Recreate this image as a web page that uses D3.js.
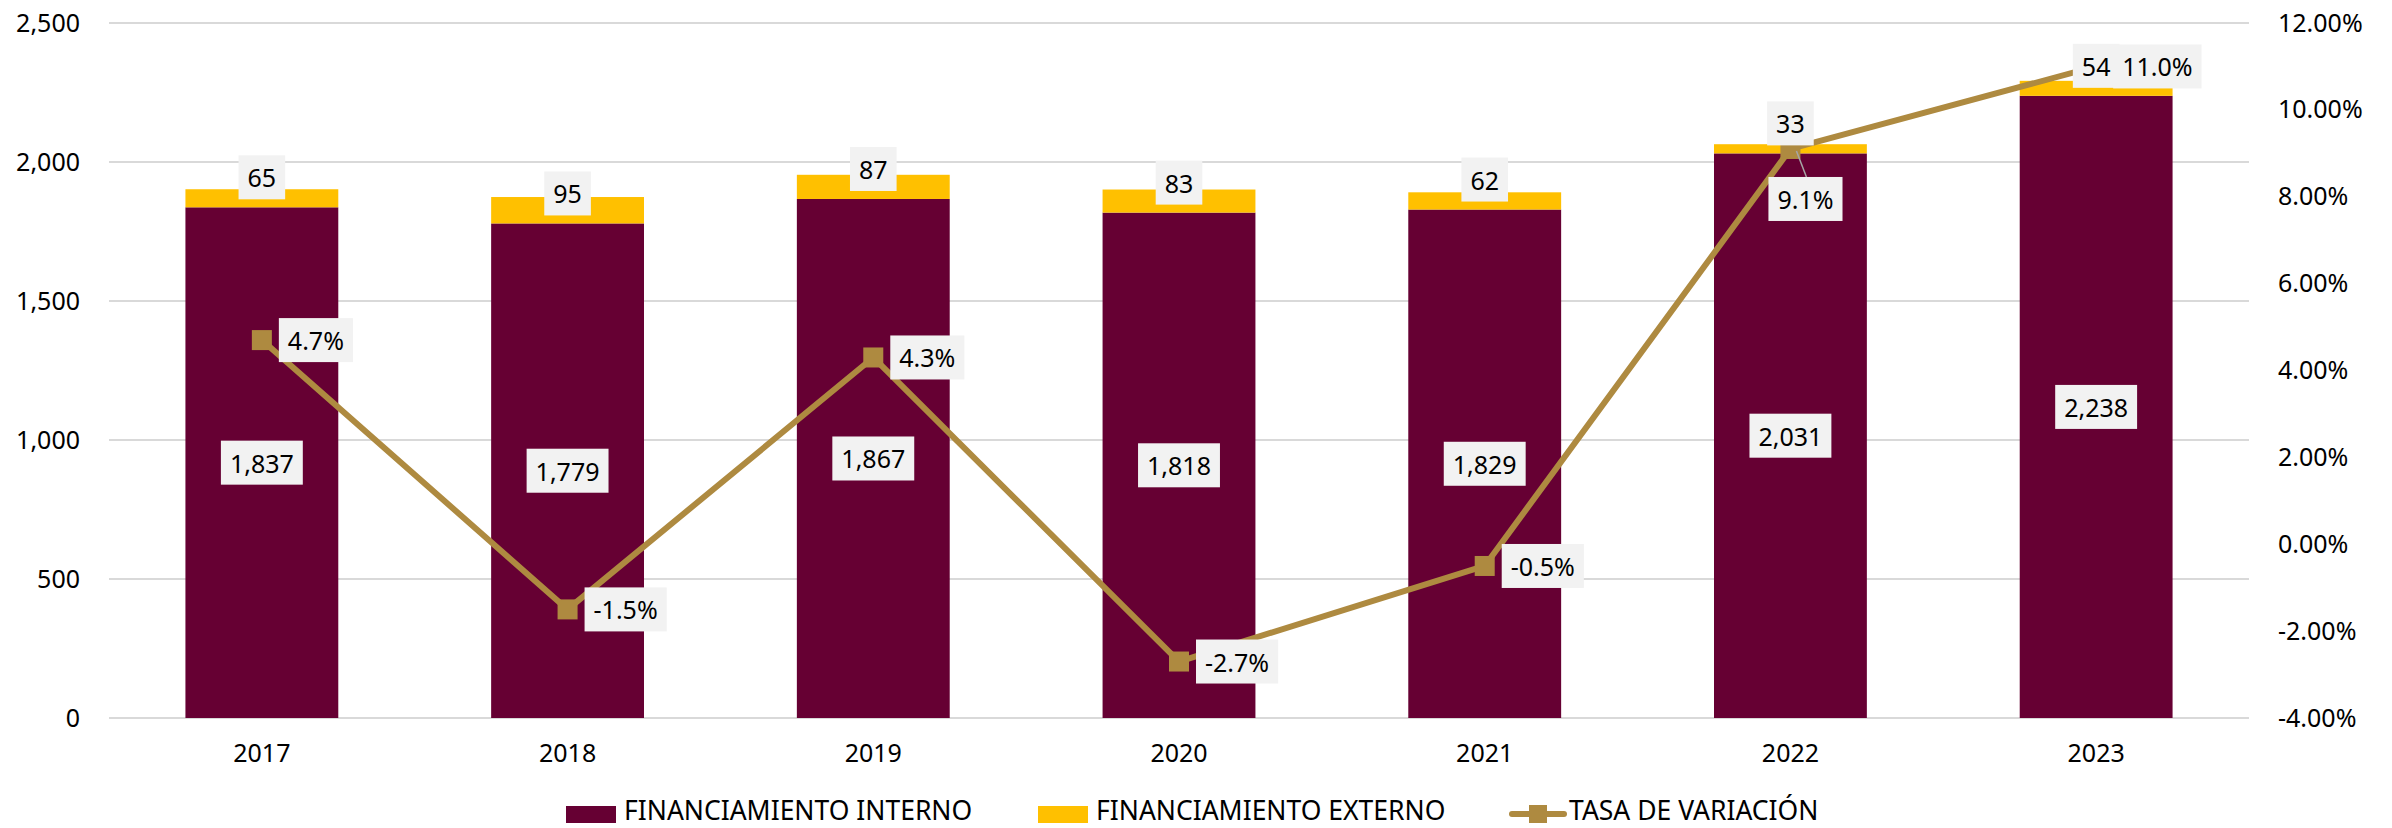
<!DOCTYPE html>
<html>
<head>
<meta charset="utf-8">
<script src="https://cdn.jsdelivr.net/npm/d3@7"></script>
<style>
  html, body { margin: 0; padding: 0; background: #ffffff; }
  svg { display: block; font-family: "Noto Sans", "Open Sans", sans-serif; }
</style>
</head>
<body>
<svg id="chart" width="2392" height="828"></svg>
<script>
const years = ["2017", "2018", "2019", "2020", "2021", "2022", "2023"];
const interno = [1837, 1779, 1867, 1818, 1829, 2031, 2238];
const externo = [65, 95, 87, 83, 62, 33, 54];
const tasa = [4.7, -1.5, 4.3, -2.7, -0.5, 9.1, 11.0];
const leftTicks = [0, 500, 1000, 1500, 2000, 2500];
const rightTicks = [-4, -2, 0, 2, 4, 6, 8, 10, 12];
const seriesNames = ["FINANCIAMIENTO INTERNO", "FINANCIAMIENTO EXTERNO", "TASA DE VARIACIÓN"];

const C_INT = "#660033", C_EXT = "#FFC000", C_LINE = "#AE8A40", C_GRID = "#D9D9D9", C_LBL = "#F2F2F2";
const svg = d3.select("#chart");
const L = 109, R = 2249, T = 23, B = 718;
const FS = 25;

const x = d3.scaleBand().domain(years).range([L, R]).paddingInner(0.5).paddingOuter(0.25);
const yL = d3.scaleLinear().domain([0, 2500]).range([B, T]);
const yR = d3.scaleLinear().domain([-4, 12]).range([B, T]);
const fmtN = d3.format(",");

// gridlines
svg.append("g").selectAll("line").data(leftTicks).join("line")
  .attr("x1", L).attr("x2", R)
  .attr("y1", d => yL(d)).attr("y2", d => yL(d))
  .attr("stroke", C_GRID).attr("stroke-width", 2);

// left axis
const axL = d3.axisLeft(yL).tickValues(leftTicks).tickFormat(fmtN).tickSize(0).tickPadding(0);
const gL = svg.append("g").attr("transform", `translate(80,0)`).call(axL);
gL.select(".domain").remove();
gL.selectAll("text").attr("font-size", FS).attr("fill", "#000").attr("font-family", "Noto Sans");

// right axis
const axR = d3.axisRight(yR).tickValues(rightTicks).tickFormat(d => d.toFixed(2) + "%").tickSize(0).tickPadding(0);
const gR = svg.append("g").attr("transform", `translate(2278,0)`).call(axR);
gR.select(".domain").remove();
gR.selectAll("text").attr("font-size", FS).attr("fill", "#000").attr("font-family", "Noto Sans");

// x axis
const axX = d3.axisBottom(x).tickSize(0).tickPadding(0);
const gX = svg.append("g").attr("transform", `translate(0,${B + 26})`).call(axX);
gX.select(".domain").remove();
gX.selectAll("text").attr("font-size", FS).attr("fill", "#000").attr("font-family", "Noto Sans").attr("dy", "0.71em");

// bars
const data = years.map((yr, i) => ({ yr, i, a: interno[i], b: externo[i], r: tasa[i] }));
svg.append("g").selectAll("rect").data(data).join("rect")
  .attr("x", d => x(d.yr)).attr("width", x.bandwidth())
  .attr("y", d => yL(d.a)).attr("height", d => yL(0) - yL(d.a))
  .attr("fill", C_INT);
svg.append("g").selectAll("rect").data(data).join("rect")
  .attr("x", d => x(d.yr)).attr("width", x.bandwidth())
  .attr("y", d => yL(d.a + d.b)).attr("height", d => yL(d.a) - yL(d.a + d.b))
  .attr("fill", C_EXT);

// line
const cx = d => x(d.yr) + x.bandwidth() / 2;
const line = d3.line().x(cx).y(d => yR(d.r));
svg.append("path").datum(data).attr("d", line)
  .attr("fill", "none").attr("stroke", C_LINE).attr("stroke-width", 6).attr("stroke-linejoin", "round");
svg.append("g").selectAll("rect").data(data).join("rect")
  .attr("x", d => cx(d) - 10).attr("y", d => yR(d.r) - 10)
  .attr("width", 20).attr("height", 20).attr("fill", C_LINE);

// label helper
function boxLabel(g, text, xc, yc, anchor) {
  const t = g.append("text").text(text).attr("font-size", FS).attr("fill", "#000")
    .attr("dominant-baseline", "central").attr("text-anchor", "middle");
  const w = t.node().getComputedTextLength() + 18, h = 44;
  let bx = anchor === "start" ? xc : xc - w / 2;
  t.attr("x", bx + w / 2).attr("y", yc);
  g.insert("rect", "text:last-child").attr("x", bx).attr("y", yc - h / 2).attr("width", w).attr("height", h).attr("fill", C_LBL);
}

const lblG = svg.append("g");
data.forEach(d => {
  const g1 = lblG.append("g");
  boxLabel(g1, fmtN(d.a), cx(d), (yL(d.a) + yL(0)) / 2, "middle");
});
// rate labels
data.forEach(d => {
  const g = lblG.append("g");
  const mx = cx(d), my = yR(d.r);
  if (d.i === 5) {
    const by = my + 50;
    g.append("line").attr("x1", mx + 6).attr("y1", my + 2).attr("x2", mx + 16).attr("y2", by - 22)
      .attr("stroke", "#A6A6A6").attr("stroke-width", 1.5);
    boxLabel(g, d.r.toFixed(1) + "%", mx - 22, by, "start");
  } else {
    boxLabel(g, d.r.toFixed(1) + "%", mx + 17, my, "start");
  }
});
data.forEach(d => {
  const g2 = lblG.append("g");
  boxLabel(g2, fmtN(d.b), cx(d), yL(d.a) - 8 - 22, "middle");
});

// legend
const lg = svg.append("g");
const ly = 814, LFS = 26.5, lbase = 819.5;
lg.append("rect").attr("x", 566).attr("y", ly - 8).attr("width", 50).attr("height", 17).attr("fill", C_INT);
lg.append("text").attr("x", 624).attr("y", lbase).attr("font-size", LFS).text(seriesNames[0]);
lg.append("rect").attr("x", 1038).attr("y", ly - 8).attr("width", 50).attr("height", 17).attr("fill", C_EXT);
lg.append("text").attr("x", 1096).attr("y", lbase).attr("font-size", LFS).text(seriesNames[1]);
lg.append("line").attr("x1", 1512).attr("x2", 1564).attr("y1", ly).attr("y2", ly)
  .attr("stroke", C_LINE).attr("stroke-width", 6).attr("stroke-linecap", "round");
lg.append("rect").attr("x", 1529).attr("y", ly - 9).attr("width", 18).attr("height", 18).attr("fill", C_LINE);
lg.append("text").attr("x", 1569).attr("y", lbase).attr("font-size", LFS).text(seriesNames[2]);
</script>
</body>
</html>
